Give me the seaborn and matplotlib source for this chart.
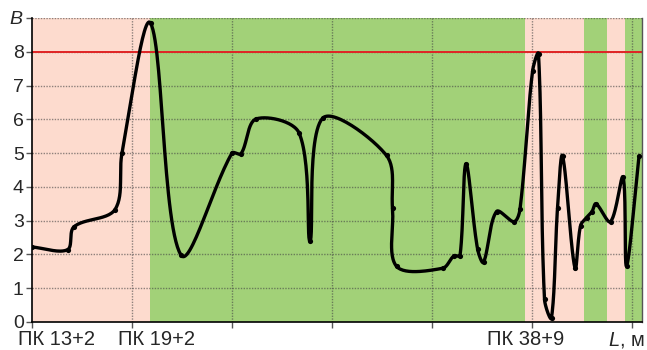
import numpy as np
import pandas as pd
import matplotlib
matplotlib.use("Agg")
import matplotlib.pyplot as plt
import seaborn as sns

# ---- data ----
distance = [0, 35.5, 42, 83, 90, 118.5, 149, 200, 209, 224, 267, 278, 290.5,
            354.5, 360.5, 364.5, 410.5, 422, 428, 434, 445.5, 451.5, 464.5,
            482, 488, 500.5, 506.5, 512.5, 519.5, 525.5, 530.5, 543, 548.5,
            554.5, 560, 564, 578.5, 591, 594.5, 607]
value = [2.22, 2.14, 2.82, 3.33, 5.0, 8.85, 1.98, 5.0, 4.98, 6.01, 5.6, 2.4,
         6.03, 4.93, 3.38, 1.65, 1.59, 1.96, 1.96, 4.68, 2.17, 1.77, 3.27,
         2.97, 3.34, 7.42, 7.94, 0.67, 0.12, 3.37, 4.92, 1.59, 2.85, 3.09,
         3.27, 3.5, 2.97, 4.29, 1.66, 4.9]

zone_start = [0, 118, 493, 552, 575, 593]
zone_end = [118, 493, 552, 575, 593, 610]
zone_kind = ["bad", "good", "bad", "good", "bad", "good"]

limit_value = 8

xtick_pos = [0, 100, 200, 300, 400, 500, 600]
xlabel_pos = [25, 125, 494, 594]
xlabel_text = ["ПК 13+2", "ПК 19+2", "ПК 38+9", "$L$, м"]
ytick_pos = [0, 1, 2, 3, 4, 5, 6, 7, 8, 9]
ytick_text = ["0", "1", "2", "3", "4", "5", "6", "7", "8", "$B$"]


def smooth_curve(xs, ys, yscale=33.75, n=30):
    """Chord-scaled Catmull-Rom Bezier smoothing through the points
    (distances measured in screen proportions)."""
    P = np.column_stack([xs, np.asarray(ys, float) * yscale]).astype(float)
    m = len(P)
    d = np.linalg.norm(np.diff(P, axis=0), axis=1)
    t = np.linspace(0, 1, n)[:, None]
    out = []
    for i in range(m - 1):
        p1, p2 = P[i], P[i + 1]
        d1 = d[i]
        if i > 0:
            c1 = p1 + (p2 - P[i - 1]) * d1 / (3 * (d[i - 1] + d1))
        else:
            c1 = p1 + (p2 - p1) / 3
        if i + 2 < m:
            c2 = p2 - (P[i + 2] - p1) * d1 / (3 * (d1 + d[i + 1]))
        else:
            c2 = p2 - (p2 - p1) / 3
        seg = ((1 - t) ** 3) * p1 + 3 * ((1 - t) ** 2) * t * c1 + \
            3 * (1 - t) * t ** 2 * c2 + t ** 3 * p2
        out.append(seg if i == 0 else seg[1:])
    S = np.vstack(out)
    return S[:, 0], S[:, 1] / yscale


sns.set_theme(style="white")
plt.rcParams["font.family"] = ["Liberation Sans", "DejaVu Sans"]
plt.rcParams["mathtext.fontset"] = "custom"
plt.rcParams["mathtext.it"] = "Liberation Sans:italic"
plt.rcParams["mathtext.rm"] = "Liberation Sans"

fig = plt.figure(figsize=(6.47, 3.5), dpi=100)
ax = fig.add_axes([32 / 647, 1 - 322 / 350, 610 / 647, 304 / 350])

colors = {"bad": "#FDDBCE", "good": "#A2D178"}
for s, e, k in zip(zone_start, zone_end, zone_kind):
    ax.axvspan(s, e, color=colors[k], lw=0, zorder=0)

ax.set_xlim(0, 610)
ax.set_ylim(0, 9)

# grid
for xv in xtick_pos[1:]:
    ax.axvline(xv, color="#444444", lw=1.0, ls=(0, (1, 1)), alpha=0.6, zorder=1)
for yv in ytick_pos[1:]:
    ax.axhline(yv, color="#444444", lw=1.0, ls=(0, (1, 1)), alpha=0.6, zorder=1)

ax.axhline(limit_value, color="#E02424", lw=1.4, zorder=2)

sx, sy = smooth_curve(distance, value)
df_s = pd.DataFrame({"x": sx, "y": sy})
sns.lineplot(data=df_s, x="x", y="y", sort=False, estimator=None,
             color="black", lw=2.4, ax=ax, zorder=3)
df_p = pd.DataFrame({"x": distance, "y": value})
sns.scatterplot(data=df_p, x="x", y="y", color="black", s=14, lw=0,
                ax=ax, zorder=4)

ax.set_xlabel("")
ax.set_ylabel("")
ax.set_xticks(xtick_pos)
ax.set_xticklabels([""] * len(xtick_pos))
ax.set_xticks(xlabel_pos, minor=True)
ax.set_xticklabels(xlabel_text, minor=True, fontsize=14.5)
ax.tick_params(axis="x", which="minor", length=0, pad=6)
ax.tick_params(axis="x", which="major", length=4, width=1, color="#555555",
               direction="out", bottom=True)
ax.set_yticks(ytick_pos)
ax.set_yticklabels(ytick_text, fontsize=14)
ax.tick_params(axis="y", length=4, width=1, color="#555555", direction="out",
               left=True, pad=2)

ax.spines["left"].set_color("black")
ax.spines["left"].set_linewidth(1.2)
ax.spines["bottom"].set_color("black")
ax.spines["bottom"].set_linewidth(1.2)
ax.spines["top"].set_visible(False)
ax.spines["right"].set_color("#555555")
ax.spines["right"].set_linewidth(1.0)

fig.savefig("out.png", dpi=100)
